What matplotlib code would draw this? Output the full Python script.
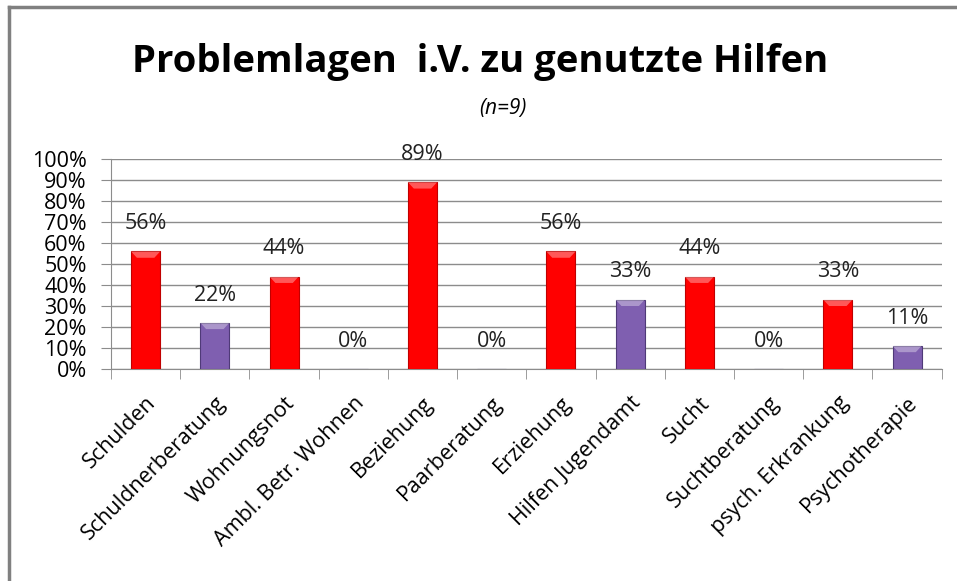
import matplotlib.pyplot as plt
import numpy as np
from matplotlib.patches import Polygon

# Problemlagen vs. genutzte Hilfen (n=9)
categories = ["Schulden", "Schuldnerberatung", "Wohnungsnot", "Ambl. Betr. Wohnen",
              "Beziehung", "Paarberatung", "Erziehung", "Hilfen Jugendamt",
              "Sucht", "Suchtberatung", "psych. Erkrankung", "Psychotherapie"]
values = [56, 22, 44, 0, 89, 0, 56, 33, 44, 0, 33, 11]
kind = ["problem", "hilfe"] * 6

red = "#ff0000"
purple = "#7f5fb0"
colors = [red if k == "problem" else purple for k in kind]
edges = ["#c00000" if k == "problem" else "#4f3a78" for k in kind]

plt.rcParams['font.family'] = ['Open Sans', 'DejaVu Sans']

fig = plt.figure(figsize=(9.57, 5.81), dpi=100)
ax = fig.add_axes([0.116, 0.365, 0.868, 0.361])

x = np.arange(len(categories))
bars = ax.bar(x, values, width=0.42, color=colors, edgecolor=edges, linewidth=0.8, zorder=3)

# light bevel on top of each bar
for b, v in zip(bars, values):
    if v == 0:
        continue
    x0, w, h = b.get_x(), b.get_width(), b.get_height()
    bev = Polygon([(x0, h), (x0 + w, h), (x0 + w * 0.8, h - 3), (x0 + w * 0.2, h - 3)],
                  closed=True, facecolor="white", alpha=0.35, edgecolor="none", zorder=4)
    ax.add_patch(bev)

for xi, v in zip(x, values):
    ax.annotate(f"{v}%", (xi, v), xytext=(0, 20), textcoords="offset points",
                ha="center", va="center", fontsize=15.5, color="#222222")

ax.set_xlim(-0.5, len(categories) - 0.5)
ax.set_ylim(0, 100)
ax.set_yticks(np.arange(0, 101, 10))
ax.set_yticklabels([f"{t}%" for t in range(0, 101, 10)], fontsize=15.5)
ax.yaxis.grid(True, color="#8c8c8c", linewidth=1, zorder=0)
ax.tick_params(axis="y", length=7.5, color="#8c8c8c", pad=10)

ax.set_xticks(x)
ax.set_xticklabels(categories, rotation=45, ha="right", rotation_mode="anchor", fontsize=15.5)
ax.tick_params(axis="x", which="major", length=0, pad=17)
ax.set_xticks(np.arange(-0.5, len(categories)), minor=True)
ax.tick_params(axis="x", which="minor", length=7, color="#8c8c8c")

for s in ["top", "right"]:
    ax.spines[s].set_visible(False)
ax.spines["left"].set_color("#8c8c8c")
ax.spines["bottom"].set_color("#8c8c8c")

fig.text(0.502, 0.893, "Problemlagen  i.V. zu genutzte Hilfen", ha="center", va="center",
         fontsize=27.5, fontweight="bold")
fig.text(0.525, 0.813, "(n=9)", ha="center", va="center", fontsize=15, style="italic")

# outer frame (only top and left edge visible)
fig.add_artist(plt.Line2D([0.0095, 1.0], [0.988, 0.988], color="#808080", linewidth=2.5))
fig.add_artist(plt.Line2D([0.0095, 0.0095], [0.0, 0.988], color="#808080", linewidth=2.5))

fig.savefig("out.png", dpi=100)
